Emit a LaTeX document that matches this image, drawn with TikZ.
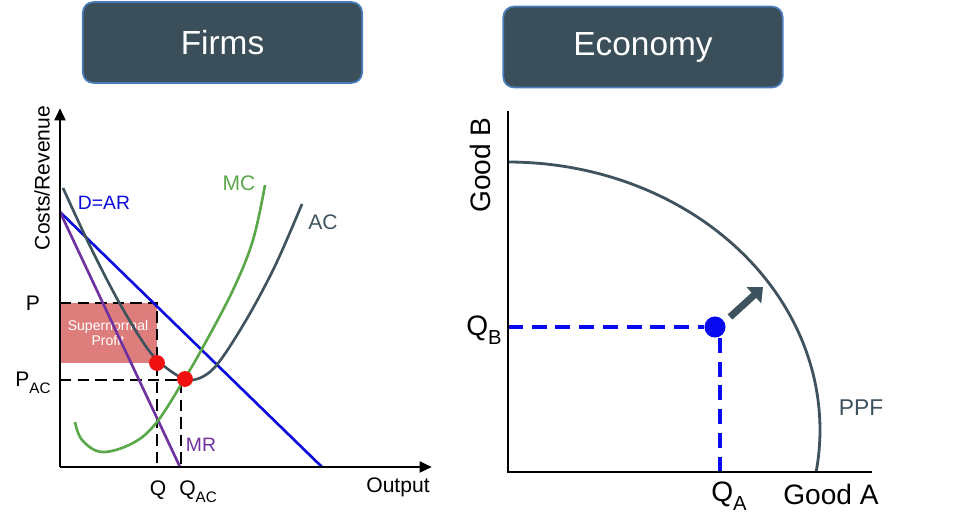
\documentclass[tikz,border=0pt]{standalone}
\usepackage{fontspec}
\setmainfont{Liberation Sans}
\usetikzlibrary{arrows.meta}
\definecolor{hdrfill}{HTML}{3A4F5A}
\definecolor{hdrline}{HTML}{4A7EBB}
\definecolor{acc}{HTML}{3F535E}
\definecolor{mcc}{HTML}{5BA84A}
\definecolor{mrc}{HTML}{7030A0}
\definecolor{darc}{HTML}{0B0BDB}
\definecolor{profit}{HTML}{D9706E}
\definecolor{dotred}{HTML}{F01010}
\definecolor{dotblue}{HTML}{0A0AF0}
\newcommand\fsz[1]{\fontsize{#1}{#1}\selectfont}
\newcommand\sbs[1]{\raisebox{-0.32em}{\scalebox{0.72}{#1}}}
\tikzset{
  hdr/.style={draw=hdrline, line width=1pt, fill=hdrfill, rounded corners=6pt,
    minimum width=159pt, minimum height=46pt, text=white, font=\fsz{19pt}, inner sep=0},
  axis/.style={line width=1.7pt, black},
  curve/.style={line width=1.5pt},
  lbl/.style={inner sep=0, font=\fsz{12pt}},
  blbl/.style={inner sep=0, font=\fsz{16pt}},
  blk dash/.style={line width=1.5pt, dash pattern=on 6.5pt off 3.5pt},
  blu dash/.style={line width=2.1pt, dotblue, dash pattern=on 8.5pt off 5pt},
  rdot/.style={circle, fill=dotred, minimum size=9pt, inner sep=0},
  bdot/.style={circle, fill=dotblue, minimum size=12pt, inner sep=0}
}
\begin{document}
\begin{tikzpicture}[x=0.02cm,y=-0.02cm]
\useasboundingbox (0,0) rectangle (965,530);
% headers
\node[hdr] (firms) at (222.5,42.5) {Firms};
\node[hdr] (econ) at (643,47) {Economy};

% ===== Left: firms =====
\coordinate (O1) at (60,467);
\coordinate (ytop1) at (60,108);
\coordinate (xend1) at (432,467);
\coordinate (P) at (60,303);
\coordinate (Pq) at (157,303);
\coordinate (Pb) at (157,363);
\coordinate (Qb) at (157,467);
\coordinate (PAC) at (60,380);
\coordinate (PACq) at (181,380);
\coordinate (QACb) at (181,467);
\coordinate (ARtop) at (60,212);
\coordinate (ARbot) at (322,467);
\coordinate (MRbot) at (180,467);

\fill[profit, opacity=0.9] (P) rectangle (Pb);
\node[inner sep=0, text=white, font=\fsz{8pt}, align=center] (snp) at (108,333) {Supernormal\\Profit};

\draw[blk dash] (P) -- (Pq) -- (Qb);
\draw[blk dash] (PAC) -- (PACq) -- (QACb);

\draw[curve, darc] (ARtop) -- (ARbot);
\draw[curve, mrc] (ARtop) -- (MRbot);
\draw[curve, acc] plot[smooth, tension=0.55] coordinates {(63,188) (90,246) (120,304) (150,352) (175,374) (193,380) (215,367) (245,322) (275,266) (302,204)};
\draw[curve, mcc] plot[smooth, tension=0.6] coordinates {(75,422) (82,440) (102,452) (133,443) (157,422) (185,378) (203,347) (233,290) (253,240) (265,185)};

\node[rdot] (d1) at (157,363) {};
\node[rdot] (d2) at (185,379) {};

\draw[axis, -{Triangle[length=7pt,width=6pt]}] (O1) -- (ytop1);
\draw[axis, -{Triangle[length=7pt,width=6pt]}] (O1) -- (xend1);

\node[lbl, rotate=90] (cr) at (42,178) {Costs/Revenue};
\node[lbl, text=darc, font=\fsz{11pt}] (lAR) at (104,203) {D=AR};
\node[lbl, text=mcc] (lMC) at (239,183) {MC};
\node[lbl, text=acc] (lAC) at (323,222) {AC};
\node[lbl, text=mrc, font=\fsz{11pt}] (lMR) at (201,445) {MR};
\node[lbl] (lP) at (33,303) {P};
\node[lbl] (lPAC) at (33,383) {P\sbs{AC}};
\node[lbl] (lQ) at (158,490) {Q};
\node[lbl] (lQAC) at (198,492) {Q\sbs{AC}};
\node[lbl] (lOut) at (398,487) {Output};

% ===== Right: economy =====
\coordinate (O2) at (508,472);
\coordinate (ytop2) at (508,111);
\coordinate (xend2) at (872,472);
\coordinate (QBl) at (508,327);
\coordinate (QAb) at (720,477);
\coordinate (arrtip) at (763,287);

\draw[curve, acc, line width=1.6pt] plot[domain=-9.02:90, samples=90] ({508+312*cos(\x)}, {430-268*sin(\x)});

\node[bdot] (pt) at (715,327) {};
\draw[blu dash] (QBl) -- (pt.west);
\draw[blu dash] (720,338) -- (QAb);
\draw[acc, line width=4pt, -{Triangle[length=7pt,width=12pt]}] (730,317) -- (arrtip);

\draw[axis] (ytop2) -- (O2) -- (xend2);

\node[blbl, rotate=90] (gb) at (480,165) {Good B};
\node[blbl] (lQB) at (484,330) {Q\sbs{B}};
\node[blbl] (lQA) at (729,496) {Q\sbs{A}};
\node[blbl] (ga) at (831,494) {Good A};
\node[lbl, text=acc, font=\fsz{13pt}] (ppf) at (861,408) {PPF};
\end{tikzpicture}
\end{document}
